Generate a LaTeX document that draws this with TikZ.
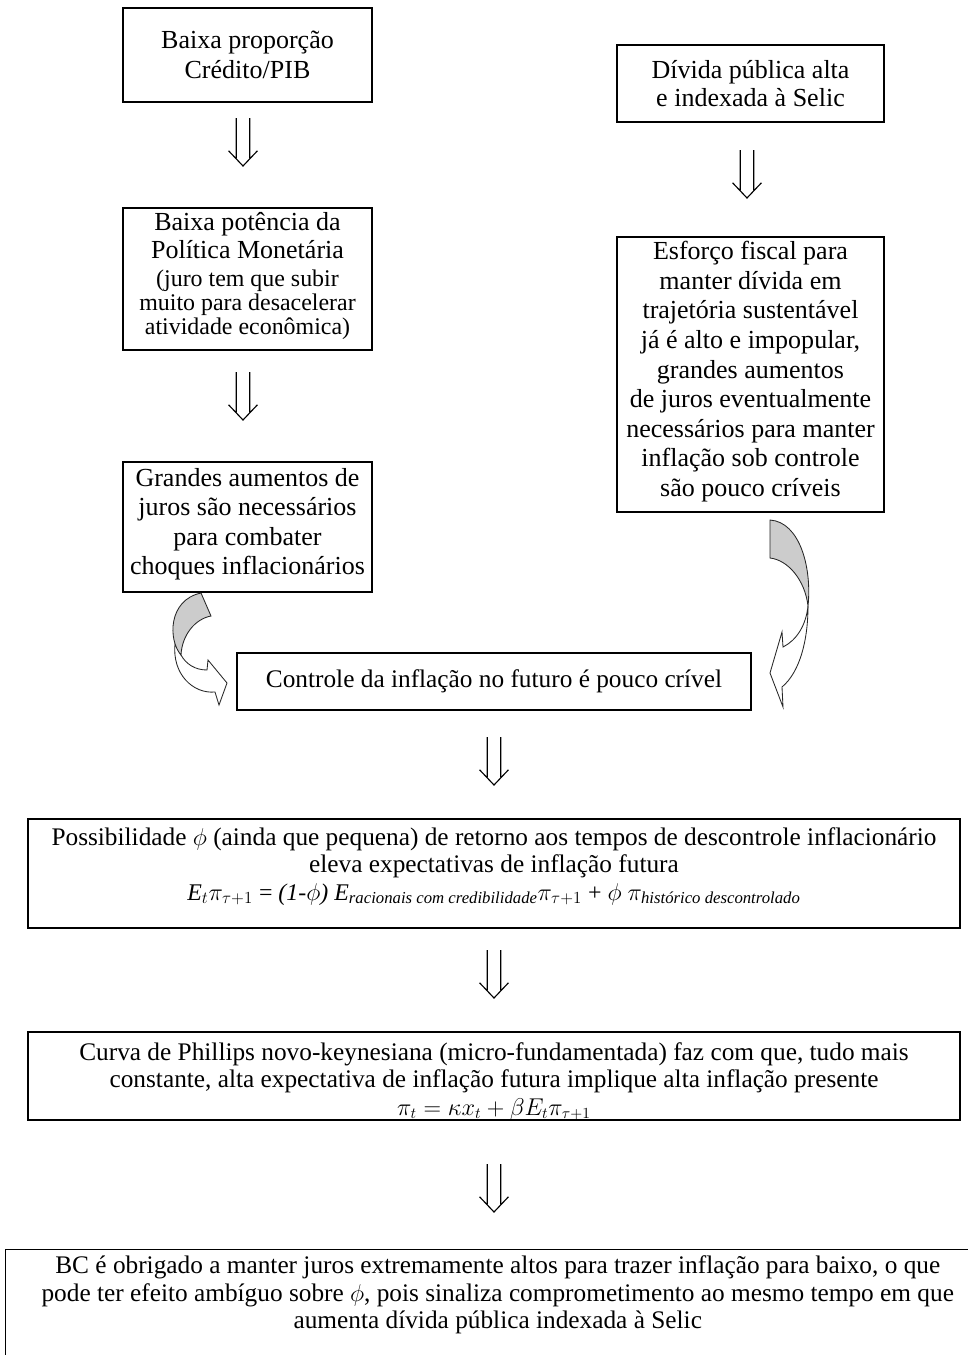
\documentclass[tikz,border=0pt]{standalone}
\usepackage{fontspec}
\usepackage{amsmath}
\setmainfont{Liberation Serif}
\newcommand\topfnt{\fontsize{18.5}{21}\selectfont}
\newcommand\subfnt{\fontsize{17}{18}\selectfont}
\newcommand\lowfnt{\fontsize{18}{19.6}\selectfont}
\tikzset{
  box/.style={draw, line width=0.9pt, inner sep=0pt, align=center},
  dblarr/.style={line width=0.8pt, line join=miter, to path={
    ([xshift=-0.17cm]\tikztostart) -- ([xshift=-0.17cm,yshift=0.2cm]\tikztotarget)
    ([xshift=0.17cm]\tikztostart) -- ([xshift=0.17cm,yshift=0.2cm]\tikztotarget)
    ([xshift=-0.36cm,yshift=0.38cm]\tikztotarget) -- (\tikztotarget) -- ([xshift=0.36cm,yshift=0.38cm]\tikztotarget)}},
  twistback/.style={draw=black!85, line width=0.6pt, fill=black!20},
  twistfront/.style={draw=black!85, line width=0.6pt, fill=white},
}
\begin{document}
\begin{tikzpicture}[x=0.025cm, y=-0.025cm]
\path[use as bounding box, fill=white] (0,0) rectangle (967,1355);

% left column
\node[box, font=\topfnt, minimum width=6.225cm, minimum height=2.35cm] (a) at (247.5,55)
  {Baixa proporção\\Crédito/PIB};
\node[box, font=\fontsize{18.5}{20}\selectfont, minimum width=6.225cm, minimum height=3.55cm] (b) at (247.5,279)
  {Baixa potência da\\Política Monetária\\\subfnt (juro tem que subir\\[-3pt]\subfnt muito para desacelerar\\[-3pt]\subfnt atividade econômica)\rule[-8pt]{0pt}{8pt}};
\node[box, font=\topfnt, minimum width=6.225cm, minimum height=3.25cm] (c) at (247.5,527)
  {Grandes aumentos de\\juros são necessários\\para combater\\choques inflacionários\rule[-8pt]{0pt}{8pt}};

% right column
\node[box, font=\fontsize{18.5}{20}\selectfont, minimum width=6.675cm, minimum height=1.925cm] (d) at (750.5,83.5)
  {Dívida pública alta\\e indexada à Selic};
\node[box, font=\topfnt, minimum width=6.675cm, minimum height=6.875cm] (e) at (750.5,374.5)
  {Esforço fiscal para\\manter dívida em\\trajetória sustentável\\já é alto e impopular,\\grandes aumentos\\de juros eventualmente\\necessários para manter\\inflação sob controle\\são pouco críveis\rule[-8pt]{0pt}{8pt}};

% center column
\node[box, font=\lowfnt, minimum width=12.85cm, minimum height=1.425cm] (f) at (494,681.5)
  {Controle da inflação no futuro é pouco crível};
\node[box, font=\lowfnt, minimum width=23.3cm, minimum height=2.725cm] (g) at (494,873.5)
  {Possibilidade $\phi$ (ainda que pequena) de retorno aos tempos de descontrole inflacionário\\
   eleva expectativas de inflação futura\\
   \fontsize{17}{19}\selectfont\textit{E}$_t\pi_{\tau+1}$ = \textit{(1-}$\phi$\textit{)} \textit{E}$_{\text{\itshape racionais com credibilidade}}\pi_{\tau+1}$ + $\phi$ $\pi_{\text{\itshape histórico descontrolado}}$\rule[-14pt]{0pt}{14pt}};
\node[box, font=\lowfnt, minimum width=23.3cm, minimum height=2.05cm] (h) at (494,1076)
  {\rule{0pt}{20pt}Curva de Phillips novo-keynesiana (micro-fundamentada) faz com que, tudo mais\\
   constante, alta expectativa de inflação futura implique alta inflação presente\\
   \fontsize{16}{19}\selectfont$\pi_t = \kappa x_t + \beta E_t\pi_{\tau+1}$};
\node[box, anchor=north west] (i) at (5,1249)
  {\parbox[c][3.5cm][t]{24.6cm}{\centering\lowfnt
   \rule{0pt}{0.6cm}BC é obrigado a manter juros extremamente altos para trazer inflação para baixo, o que\\
   pode ter efeito ambíguo sobre $\phi$, pois sinaliza comprometimento ao mesmo tempo em que\\
   aumenta dívida pública indexada à Selic}};

% double arrows
\coordinate (ab1) at (243,118);  \coordinate (ab2) at (243,166);
\coordinate (bc1) at (243,372);  \coordinate (bc2) at (243,420);
\coordinate (de1) at (747,150);  \coordinate (de2) at (747,198);
\coordinate (fg1) at (494,737);  \coordinate (fg2) at (494,785);
\coordinate (gh1) at (494,950);  \coordinate (gh2) at (494,998);
\coordinate (hi1) at (494,1164); \coordinate (hi2) at (494,1212);
\draw[dblarr] (ab1) to (ab2);
\draw[dblarr] (bc1) to (bc2);
\draw[dblarr] (de1) to (de2);
\draw[dblarr] (fg1) to (fg2);
\draw[dblarr] (gh1) to (gh2);
\draw[dblarr] (hi1) to (hi2);

% curved arrow from c to f (left)
\path[twistfront] (181,655) .. controls (186,664) and (195,670) .. (207,670) -- (208,660) -- (227,683) -- (219,705) -- (215,692) .. controls (193,694) and (172,674) .. (175,644) -- cycle;
\path[twistback] (201,593) -- (211,616) .. controls (195,619) and (182,635) .. (181,655) .. controls (168,640) and (168,600) .. (201,593) -- cycle;

% curved arrow from e to f (right)
\path[twistfront] (808,606) .. controls (808,640) and (800,672) .. (782,687) -- (783,707) -- (770,673) -- (782,632) -- (783,647) .. controls (797,640) and (806,625) .. (808,606) -- cycle;
\path[twistback] (770,520) -- (770,558) .. controls (788,560) and (805,580) .. (808,606) .. controls (812,568) and (800,522) .. (770,520) -- cycle;
\end{tikzpicture}
\end{document}
